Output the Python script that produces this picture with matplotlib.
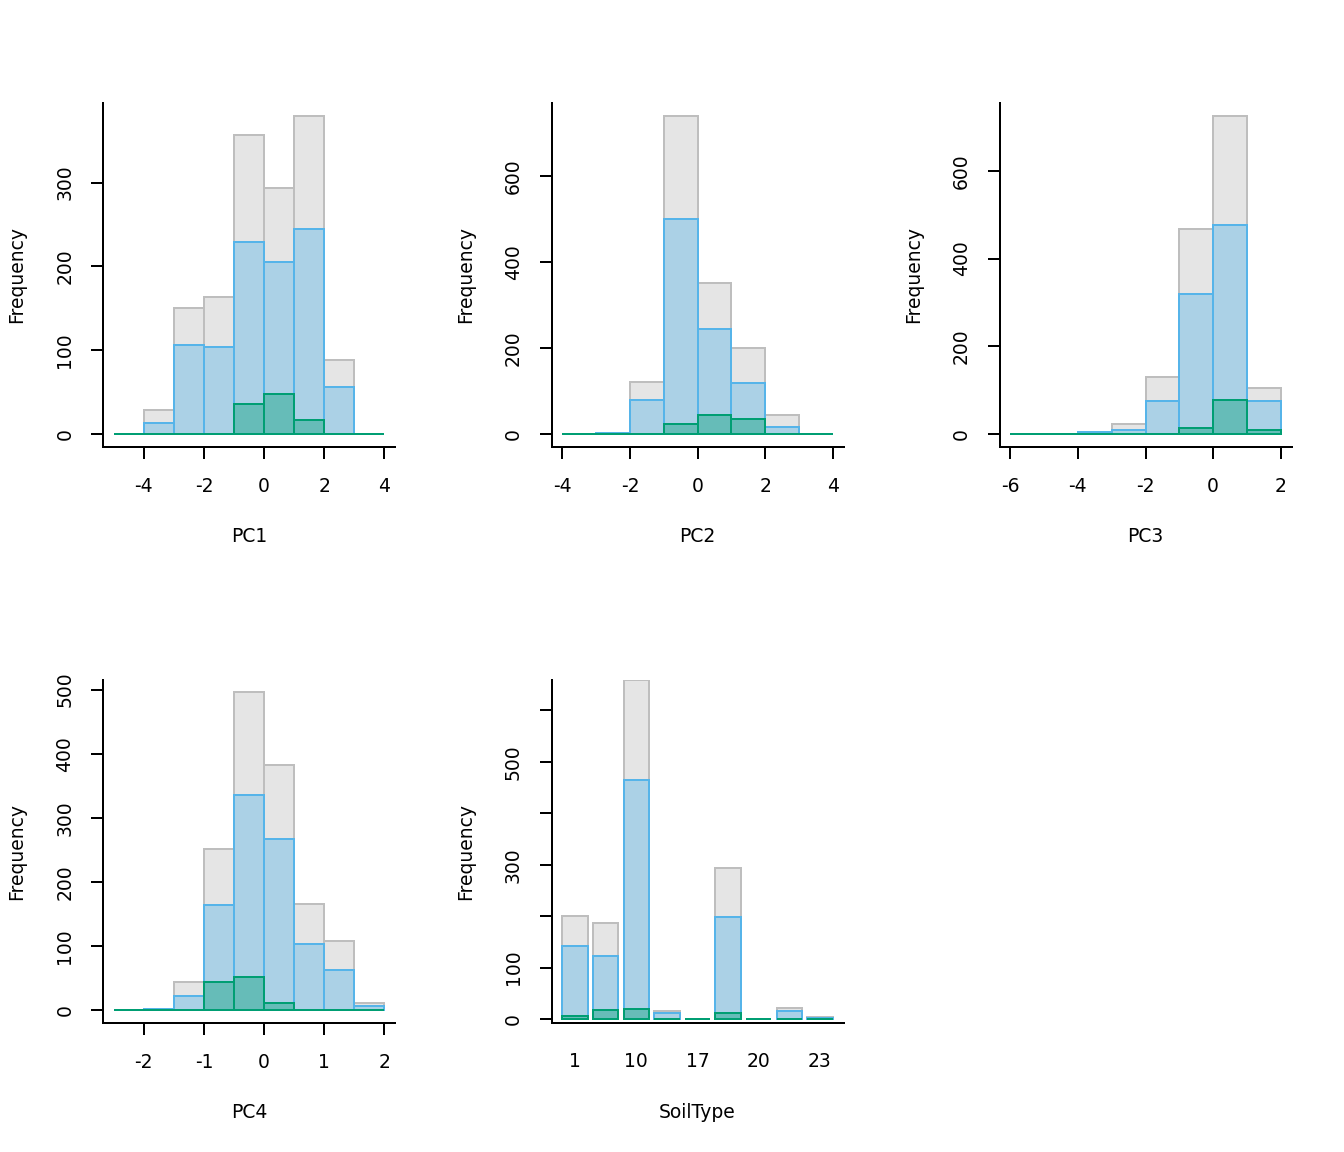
import matplotlib
matplotlib.use('Agg')
import matplotlib.pyplot as plt
import numpy as np

# ---------------------------------------------------------------
# Data (counts)
# ---------------------------------------------------------------
pc1_edges = [-5, -4, -3, -2, -1, 0, 1, 2, 3, 4]
pc1_all = [0, 28, 150, 163, 357, 294, 380, 88, 0]
pc1_mid = [0, 13, 106, 104, 229, 205, 245, 56, 0]
pc1_low = [0, 0, 0, 0, 35, 47, 17, 0, 0]

pc2_edges = [-4, -3, -2, -1, 0, 1, 2, 3, 4]
pc2_all = [0, 2, 121, 741, 352, 200, 44, 0]
pc2_mid = [0, 2, 79, 501, 244, 118, 16, 0]
pc2_low = [0, 0, 0, 22, 44, 34, 0, 0]

pc3_edges = [-6, -5, -4, -3, -2, -1, 0, 1, 2]
pc3_all = [0, 0, 5, 23, 130, 468, 726, 105]
pc3_mid = [0, 0, 3, 8, 75, 319, 476, 75]
pc3_low = [0, 0, 0, 0, 0, 13, 77, 9]

pc4_edges = [-2.5, -2, -1.5, -1, -0.5, 0, 0.5, 1, 1.5, 2]
pc4_all = [0, 2, 44, 251, 496, 382, 166, 108, 11]
pc4_mid = [0, 2, 22, 164, 335, 266, 103, 62, 6]
pc4_low = [0, 0, 0, 43, 51, 10, 0, 0, 0]

soil_labels = ['1', '', '10', '', '17', '', '20', '', '23']
soil_all = [201, 186, 660, 16, 0, 294, 0, 22, 5]
soil_mid = [143, 123, 464, 11, 0, 199, 0, 16, 3]
soil_low = [6, 18, 19, 1, 0, 12, 0, 1, 1]

# ---------------------------------------------------------------
# Style
# ---------------------------------------------------------------
plt.rcParams['font.family'] = 'DejaVu Sans'
plt.rcParams['font.size'] = 13.5

LW = 1.44
fills = [('#E5E5E5', '#BEBEBE', 1.0),
         ('#56B4E9', '#56B4E9', 0.4),
         ('#009E73', '#009E73', 0.4)]

fig = plt.figure(figsize=(13.44, 11.52), dpi=100)
W, H = 1344., 1152.


def make_axes(left_px, top_px, bottom_px, width_px=292.):
    return fig.add_axes([left_px / W, 1 - bottom_px / H,
                         width_px / W, (bottom_px - top_px) / H])


def style_axes(ax):
    ax.spines['top'].set_visible(False)
    ax.spines['right'].set_visible(False)
    for s in ['left', 'bottom']:
        ax.spines[s].set_linewidth(LW)
    ax.tick_params(axis='both', direction='out', length=8.6, width=LW)
    ax.tick_params(axis='x', pad=13)
    ax.tick_params(axis='y', pad=12, labelrotation=90)
    for lab in ax.get_yticklabels():
        lab.set_va('center')
    ax.set_ylabel('Frequency', labelpad=21)


def hist_panel(ax, edges, groups, xticks, yticks, xlabel):
    edges = np.array(edges, dtype=float)
    widths = np.diff(edges)
    for counts, (fc, ec, a) in zip(groups, fills):
        ax.bar(edges[:-1], counts, width=widths, align='edge',
               color=matplotlib.colors.to_rgba(fc, a), edgecolor=ec,
               linewidth=LW)
    ymax = max(groups[0])
    xr = edges[-1] - edges[0]
    ax.set_xlim(edges[0] - 0.04 * xr, edges[-1] + 0.04 * xr)
    ax.set_ylim(-0.04 * ymax, 1.04 * ymax)
    ax.set_xticks(xticks)
    ax.set_xticklabels([('%g' % t) for t in xticks])
    ax.set_yticks(yticks)
    style_axes(ax)
    ax.set_xlabel(xlabel, labelpad=23)


ax1 = make_axes(103, 103, 446.5)
hist_panel(ax1, pc1_edges, [pc1_all, pc1_mid, pc1_low],
           [-4, -2, 0, 2, 4], [0, 100, 200, 300], 'PC1')

ax2 = make_axes(551.5, 103, 446.5)
hist_panel(ax2, pc2_edges, [pc2_all, pc2_mid, pc2_low],
           [-4, -2, 0, 2, 4], [0, 200, 400, 600], 'PC2')

ax3 = make_axes(999.5, 103, 446.5)
hist_panel(ax3, pc3_edges, [pc3_all, pc3_mid, pc3_low],
           [-6, -4, -2, 0, 2], [0, 200, 400, 600], 'PC3')

ax4 = make_axes(103, 679.5, 1022.5)
hist_panel(ax4, pc4_edges, [pc4_all, pc4_mid, pc4_low],
           [-2, -1, 0, 1, 2], [0, 100, 200, 300, 400, 500], 'PC4')

# SoilType barplot
ax5 = make_axes(551.5, 679.5, 1022.5)
pos = 0.7 + 1.2 * np.arange(len(soil_all))
for counts, (fc, ec, a) in zip([soil_all, soil_mid, soil_low], fills):
    ax5.bar(pos, counts, width=1.0,
            color=matplotlib.colors.to_rgba(fc, a), edgecolor=ec,
            linewidth=LW)
smax = max(soil_all)
ax5.set_xlim(0.2 - 0.04 * 10.6, 10.8 + 0.04 * 10.6)
ax5.set_ylim(-0.01 * smax, smax)
ax5.set_xticks(pos)
ax5.set_xticklabels(soil_labels)
ax5.set_yticks([0, 100, 200, 300, 400, 500, 600])
ax5.set_yticklabels(['0', '100', '', '300', '', '500', ''])
style_axes(ax5)
ax5.tick_params(axis='x', length=0, pad=21.5)
ax5.set_xlabel('SoilType', labelpad=23)

fig.savefig('out.png', dpi=100)
